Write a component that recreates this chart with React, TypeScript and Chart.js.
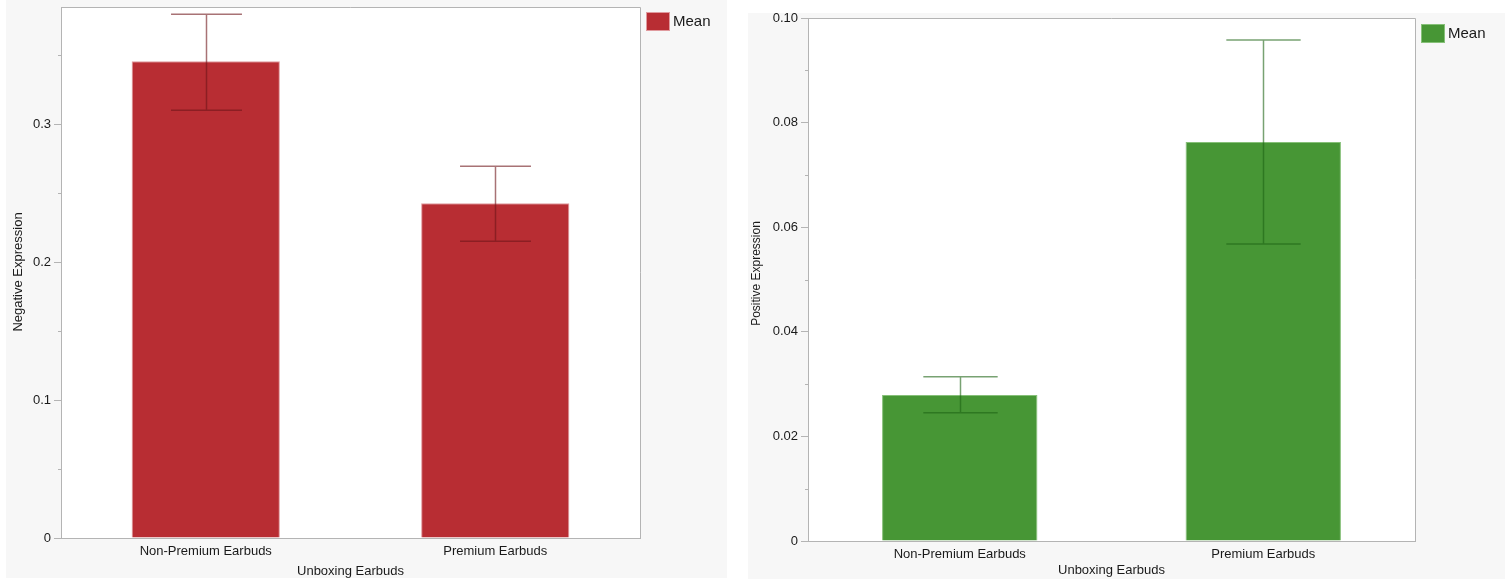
import React, { useEffect, useRef } from 'react';
import { Chart, registerables } from 'chart.js';
Chart.register(...registerables);

const categories = ['Non-Premium Earbuds', 'Premium Earbuds'];
const xTitle = 'Unboxing Earbuds';

const negMeans = [0.3457, 0.2428];
const negLower = [0.3101, 0.2152];
const negUpper = [0.3797, 0.2696];
const negMajorTicks = [0, 0.1, 0.2, 0.3];
const negTickLabels = ['0', '0.1', '0.2', '0.3'];
const negMinorTicks = [0.05, 0.15, 0.25, 0.35];

const posMeans = [0.0279, 0.0763];
const posLower = [0.0245, 0.0568];
const posUpper = [0.0314, 0.0958];
const posMajorTicks = [0, 0.02, 0.04, 0.06, 0.08, 0.1];
const posTickLabels = ['0', '0.02', '0.04', '0.06', '0.08', '0.10'];
const posMinorTicks = [0.01, 0.03, 0.05, 0.07, 0.09];

const FONT = '"Liberation Sans", Arial, Helvetica, sans-serif';
const TEXT = '#1a1a1a';
const AXIS = '#b4b4b4';

const panelPlugin = {
  id: 'panel',
  beforeDraw(chart: any) {
    const { ctx, chartArea } = chart;
    ctx.save();
    ctx.fillStyle = '#ffffff';
    ctx.fillRect(chartArea.left, chartArea.top, chartArea.right - chartArea.left, chartArea.bottom - chartArea.top);
    ctx.restore();
  },
  afterDatasetsDraw(chart: any, _a: any, opts: any) {
    const { ctx } = chart;
    const meta = chart.getDatasetMeta(0);
    const ys = chart.scales.y;
    const xs = chart.scales.x;
    const catW = xs.width / chart.data.labels.length;
    const half = catW * 0.1225;
    ctx.save();
    ctx.strokeStyle = opts.errColor;
    ctx.lineWidth = 1.5;
    meta.data.forEach((bar: any, i: number) => {
      const cx = Math.round(bar.x) + 0.5;
      const yl = ys.getPixelForValue(opts.lower[i]);
      const yh = ys.getPixelForValue(opts.upper[i]);
      ctx.beginPath();
      ctx.moveTo(cx, yh);
      ctx.lineTo(cx, yl);
      ctx.moveTo(cx - half, yh);
      ctx.lineTo(cx + half, yh);
      ctx.moveTo(cx - half, yl);
      ctx.lineTo(cx + half, yl);
      ctx.stroke();
    });
    ctx.restore();
  },
  afterDraw(chart: any, _a: any, opts: any) {
    const { ctx, chartArea } = chart;
    const ys = chart.scales.y;
    ctx.save();
    ctx.strokeStyle = AXIS;
    ctx.lineWidth = 1;
    // top and right border
    ctx.beginPath();
    ctx.moveTo(chartArea.left, Math.round(chartArea.top) + 0.5);
    ctx.lineTo(Math.round(chartArea.right) + 0.5, Math.round(chartArea.top) + 0.5);
    ctx.lineTo(Math.round(chartArea.right) + 0.5, chartArea.bottom);
    ctx.stroke();
    // minor ticks
    ctx.beginPath();
    opts.minor.forEach((v: number) => {
      const y = Math.round(ys.getPixelForValue(v)) + 0.5;
      ctx.moveTo(chartArea.left - 3, y);
      ctx.lineTo(chartArea.left, y);
    });
    ctx.stroke();
    // y title
    ctx.save();
    ctx.fillStyle = TEXT;
    ctx.font = `${opts.yTitleSize}px ${FONT}`;
    ctx.textAlign = 'center';
    ctx.textBaseline = 'middle';
    ctx.translate(opts.yTitleX, opts.yTitleY);
    ctx.rotate(-Math.PI / 2);
    ctx.fillText(opts.yTitle, 0, 0);
    ctx.restore();
    // legend
    const lx = chartArea.right + 6;
    const ly = chartArea.top + opts.legendDy;
    ctx.fillStyle = opts.color;
    ctx.fillRect(lx, ly, 24, 19);
    ctx.strokeStyle = opts.legendBorder;
    ctx.strokeRect(lx + 0.5, ly + 0.5, 23, 18);
    ctx.fillStyle = TEXT;
    ctx.font = `15px ${FONT}`;
    ctx.textBaseline = 'middle';
    ctx.textAlign = 'left';
    ctx.fillText('Mean', lx + 27, ly + 10);
    ctx.restore();
  },
};

interface Cfg {
  width: number;
  height: number;
  means: number[];
  lower: number[];
  upper: number[];
  major: number[];
  labels: string[];
  minor: number[];
  yMax: number;
  yTitle: string;
  yTitleSize: number;
  yTitleX: number;
  yTitleY: number;
  color: string;
  barBorder: string;
  errColor: string;
  padTop: number;
  padRight: number;
  yAxisWidth: number;
  xAxisHeight: number;
  xTitlePad: number;
  xTickPad: number;
  legendDy: number;
}

function BarPanel({ cfg }: { cfg: Cfg }) {
  const ref = useRef<HTMLCanvasElement | null>(null);
  useEffect(() => {
    if (!ref.current) return;
    const font = { family: FONT, size: 13 };
    const chart = new Chart(ref.current, {
      type: 'bar',
      data: {
        labels: categories,
        datasets: [
          {
            label: 'Mean',
            data: cfg.means,
            backgroundColor: cfg.color,
            borderColor: cfg.barBorder,
            borderWidth: 1,
            categoryPercentage: 1,
            barPercentage: 0.512,
          },
        ],
      },
      options: {
        responsive: false,
        animation: false,
        layout: { padding: { top: cfg.padTop, right: cfg.padRight, left: 0, bottom: 0 } },
        plugins: {
          legend: { display: false },
          tooltip: { enabled: false },
          panel: {
            lower: cfg.lower,
            upper: cfg.upper,
            minor: cfg.minor,
            errColor: cfg.errColor,
            color: cfg.color,
            legendBorder: cfg.barBorder,
            legendDy: cfg.legendDy,
            yTitle: cfg.yTitle,
            yTitleSize: cfg.yTitleSize,
            yTitleX: cfg.yTitleX,
            yTitleY: cfg.yTitleY,
          },
        } as any,
        scales: {
          x: {
            afterFit: (s: any) => {
              s.height = cfg.xAxisHeight;
              s.paddingLeft = 0;
              s.paddingRight = 0;
            },
            ticks: { color: TEXT, font, padding: cfg.xTickPad, maxRotation: 0 },
            grid: { drawOnChartArea: false, drawTicks: false, color: AXIS },
            border: { color: AXIS },
            title: { display: true, text: xTitle, color: TEXT, font, padding: { top: 0, bottom: cfg.xTitlePad } },
          },
          y: {
            min: 0,
            max: cfg.yMax,
            afterFit: (s: any) => {
              s.width = cfg.yAxisWidth;
              s.paddingTop = 0;
              s.paddingBottom = 0;
            },
            afterBuildTicks: (s: any) => {
              s.ticks = cfg.major.map((v) => ({ value: v }));
            },
            ticks: {
              color: TEXT,
              font,
              padding: 3,
              callback: (_v: any, i: number) => cfg.labels[i],
            },
            grid: { drawOnChartArea: false, drawTicks: true, tickLength: 7, color: AXIS },
            border: { color: AXIS },
          },
        },
      },
      plugins: [panelPlugin],
    });
    return () => chart.destroy();
  }, [cfg]);
  return <canvas ref={ref} width={cfg.width} height={cfg.height} style={{ display: 'block' }} />;
}

const leftCfg: Cfg = {
  width: 721,
  height: 578,
  means: negMeans,
  lower: negLower,
  upper: negUpper,
  major: negMajorTicks,
  labels: negTickLabels,
  minor: negMinorTicks,
  yMax: 0.385,
  yTitle: 'Negative Expression',
  yTitleSize: 13,
  yTitleX: 12,
  yTitleY: 272,
  color: '#b82d33',
  barBorder: '#e09a9e',
  errColor: 'rgba(110,20,25,0.6)',
  padTop: 7,
  padRight: 87,
  yAxisWidth: 55,
  xAxisHeight: 40,
  xTitlePad: -1.5,
  xTickPad: 5.5,
  legendDy: 5,
};

const rightCfg: Cfg = {
  width: 757,
  height: 566,
  means: posMeans,
  lower: posLower,
  upper: posUpper,
  major: posMajorTicks,
  labels: posTickLabels,
  minor: posMinorTicks,
  yMax: 0.1,
  yTitle: 'Positive Expression',
  yTitleSize: 12,
  yTitleX: 9,
  yTitleY: 260.5,
  color: '#479635',
  barBorder: '#86c078',
  errColor: 'rgba(30,100,20,0.6)',
  padTop: 5,
  padRight: 90,
  yAxisWidth: 60,
  xAxisHeight: 38,
  xTitlePad: 1,
  xTickPad: 6,
  legendDy: 6,
};

export default function App() {
  useEffect(() => {
    document.body.style.margin = '0';
  }, []);
  return (
    <div style={{ position: 'fixed', left: 0, top: 0, width: 1505, height: 579, background: '#ffffff', overflow: 'hidden' }}>
      <div style={{ position: 'absolute', left: 6, top: 0, width: 721, height: 578, background: '#f7f7f7' }}>
        <BarPanel cfg={leftCfg} />
      </div>
      <div style={{ position: 'absolute', left: 748, top: 13, width: 757, height: 566, background: '#f7f7f7' }}>
        <BarPanel cfg={rightCfg} />
      </div>
    </div>
  );
}
